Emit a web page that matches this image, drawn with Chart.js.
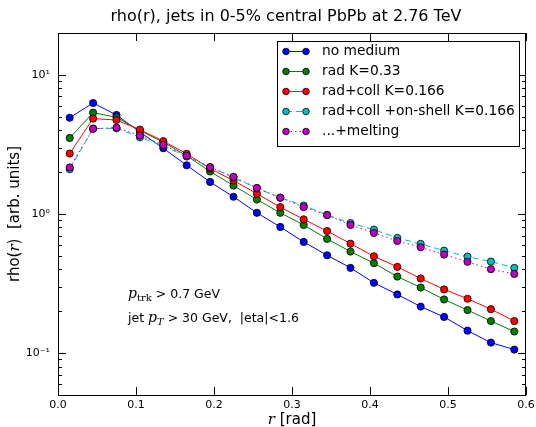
<!DOCTYPE html>
<html>
<head>
<meta charset="utf-8">
<script src="https://cdn.jsdelivr.net/npm/chart.js@4/dist/chart.umd.min.js"></script>
<style>
  html, body { margin: 0; padding: 0; background: #fff; }
  #wrap { width: 536px; height: 427px; }
</style>
</head>
<body>
<div id="wrap"><canvas id="rhoChart" width="536" height="427"></canvas></div>
<script>
// bin centres in r [rad]
const rBins = [0.015, 0.045, 0.075, 0.105, 0.135, 0.165, 0.195, 0.225, 0.255, 0.285,
               0.315, 0.345, 0.375, 0.405, 0.435, 0.465, 0.495, 0.525, 0.555, 0.585];

const noMedium = [4.92, 6.28, 5.15, 3.88, 2.97, 2.24, 1.70, 1.33, 1.02, 0.807,
                  0.63, 0.505, 0.41, 0.32, 0.264, 0.216, 0.182, 0.145, 0.119, 0.106];
const radK033 = [3.52, 5.35, 4.96, 3.98, 3.28, 2.62, 2.02, 1.60, 1.27, 1.02,
                 0.834, 0.662, 0.537, 0.443, 0.355, 0.296, 0.243, 0.204, 0.170, 0.143];
const radColl = [2.72, 4.85, 4.74, 4.04, 3.34, 2.71, 2.12, 1.74, 1.40, 1.12,
                 0.915, 0.755, 0.612, 0.497, 0.417, 0.344, 0.287, 0.246, 0.207, 0.170];
const onShell = [2.10, 4.11, 4.13, 3.56, 3.09, 2.59, 2.17, 1.83, 1.53, 1.31,
                 1.15, 0.984, 0.861, 0.772, 0.673, 0.61, 0.545, 0.494, 0.455, 0.41];
const melting = [2.16, 4.10, 4.18, 3.66, 3.14, 2.62, 2.17, 1.85, 1.54, 1.31,
                 1.12, 0.984, 0.834, 0.731, 0.64, 0.577, 0.511, 0.453, 0.401, 0.371];

const seriesLabels = ["no medium", "rad K=0.33", "rad+coll K=0.166",
                      "rad+coll +on-shell K=0.166", "...+melting"];
const seriesColors = ["#0000ff", "#007f00", "#ff0000", "#00bfbf", "#bf00bf"];
const seriesDash = [[], [], [], [6, 4], [1.5, 3]];
const xTicks = [0.0, 0.1, 0.2, 0.3, 0.4, 0.5, 0.6];

const allSeries = [noMedium, radK033, radColl, onShell, melting];

// later series drawn on top, like matplotlib
const datasets = allSeries.map((vals, i) => ({
    label: seriesLabels[i],
    data: rBins.map((r, j) => ({ x: r, y: vals[j] })),
    order: allSeries.length - i,
    borderColor: seriesColors[i],
    backgroundColor: seriesColors[i],
    borderWidth: 1,
    borderDash: seriesDash[i],
    pointRadius: 3.6,
    pointBorderColor: "#000",
    pointBorderWidth: 0.8,
    pointBackgroundColor: seriesColors[i],
    tension: 0
}));

const SANS = "'DejaVu Sans', sans-serif";
const SERIF = "'DejaVu Serif', serif";

// inward ticks on all four sides, frame, legend, text
const decorPlugin = {
    id: "decor",
    afterDraw(chart) {
        const ctx = chart.ctx;
        const a = chart.chartArea;
        const xs = chart.scales.x, ys = chart.scales.y;
        ctx.save();
        ctx.strokeStyle = "#000";
        ctx.lineWidth = 1;
        ctx.strokeRect(a.left + 0.5, a.top + 0.5, a.right - a.left - 1, a.bottom - a.top);

        ctx.beginPath();
        xTicks.forEach(v => {
            const px = Math.round(xs.getPixelForValue(v)) + 0.5;
            ctx.moveTo(px, a.bottom); ctx.lineTo(px, a.bottom - 8);
            ctx.moveTo(px, a.top); ctx.lineTo(px, a.top + 8);
        });
        for (let e = -2; e <= 1; e++) {
            for (let m = 1; m <= 9; m++) {
                const v = m * Math.pow(10, e);
                if (v < ys.min || v > ys.max) continue;
                const py = Math.round(ys.getPixelForValue(v)) + 0.5;
                const len = m === 1 ? 8 : 4;
                ctx.moveTo(a.left, py); ctx.lineTo(a.left + len, py);
                ctx.moveTo(a.right, py); ctx.lineTo(a.right - len, py);
            }
        }
        ctx.stroke();

        // title
        ctx.fillStyle = "#000";
        ctx.font = "16px " + SANS;
        ctx.textAlign = "center";
        ctx.textBaseline = "alphabetic";
        ctx.fillText("rho(r), jets in 0-5% central PbPb at 2.76 TeV", 286, 21);

        // x axis title
        ctx.textAlign = "left";
        ctx.font = "italic 15px " + SERIF;
        let w1 = ctx.measureText("r").width;
        ctx.font = "15px " + SANS;
        let w2 = ctx.measureText(" [rad]").width;
        let x0 = 292 - (w1 + w2) / 2;
        ctx.font = "italic 15px " + SERIF;
        ctx.fillText("r", x0, 424);
        ctx.font = "15px " + SANS;
        ctx.fillText(" [rad]", x0 + w1, 424);

        // y axis title
        ctx.save();
        ctx.translate(19, 214);
        ctx.rotate(-Math.PI / 2);
        const parts = [["rho(", SANS], ["r", SERIF, true], [")  [arb. units]", SANS]];
        let tw = 0;
        parts.forEach(p => { ctx.font = (p[2] ? "italic " : "") + "15px " + p[1]; tw += ctx.measureText(p[0]).width; });
        let cx = -tw / 2;
        parts.forEach(p => {
            ctx.font = (p[2] ? "italic " : "") + "15px " + p[1];
            ctx.fillText(p[0], cx, 0);
            cx += ctx.measureText(p[0]).width;
        });
        ctx.restore();

        // annotation
        let ax = 128;
        ctx.font = "italic 14px " + SERIF;
        ctx.fillText("p", ax, 298);
        ax += ctx.measureText("p").width;
        ctx.font = "10px " + SERIF;
        ctx.fillText("trk", ax, 301);
        ax += ctx.measureText("trk").width;
        ctx.font = "12.5px " + SANS;
        ctx.fillText(" > 0.7 GeV", ax, 298);

        ax = 128;
        ctx.font = "12.5px " + SANS;
        ctx.fillText("jet ", ax, 322);
        ax += ctx.measureText("jet ").width;
        ctx.font = "italic 14px " + SERIF;
        ctx.fillText("p", ax, 322);
        ax += ctx.measureText("p").width;
        ctx.font = "italic 10px " + SERIF;
        ctx.fillText("T", ax, 325);
        ax += ctx.measureText("T").width;
        ctx.font = "12.5px " + SANS;
        ctx.fillText(" > 30 GeV,  |eta|<1.6", ax, 322);

        // legend
        ctx.fillStyle = "#fff";
        ctx.fillRect(277, 41, 242, 105);
        ctx.strokeStyle = "#000";
        ctx.lineWidth = 1;
        ctx.strokeRect(277.5, 41.5, 242, 105);
        chart.data.datasets.forEach((ds, i) => {
            const ly = 51.5 + i * 20;
            ctx.strokeStyle = ds.borderColor;
            ctx.setLineDash(ds.borderDash);
            ctx.beginPath();
            ctx.moveTo(286, ly); ctx.lineTo(306, ly);
            ctx.stroke();
            ctx.setLineDash([]);
            [286, 306].forEach(mx => {
                ctx.beginPath();
                ctx.arc(mx, ly, 3.3, 0, Math.PI * 2);
                ctx.fillStyle = ds.pointBackgroundColor;
                ctx.fill();
                ctx.strokeStyle = "#000";
                ctx.lineWidth = 0.8;
                ctx.stroke();
                ctx.lineWidth = 1;
            });
            ctx.fillStyle = "#000";
            ctx.font = "13.8px " + SANS;
            ctx.textBaseline = "middle";
            ctx.fillText(ds.label, 322, ly);
            ctx.textBaseline = "alphabetic";
        });
        ctx.restore();
    }
};

const supers = { "1": "10\u00b9", "0": "10\u2070", "-1": "10\u207b\u00b9" };

new Chart(document.getElementById("rhoChart").getContext("2d"), {
    type: "line",
    data: { datasets: datasets },
    options: {
        responsive: false,
        animation: false,
        devicePixelRatio: 1,
        clip: false,
        layout: { padding: { left: 0, right: 10, top: 33, bottom: 0 } },
        plugins: {
            legend: { display: false },
            title: { display: false },
            tooltip: { enabled: false }
        },
        scales: {
            x: {
                type: "linear",
                min: 0,
                max: 0.6,
                afterFit: s => { s.height = 32; s.paddingLeft = 0; s.paddingRight = 0; },
                afterBuildTicks: s => { s.ticks = xTicks.map(v => ({ value: v })); },
                grid: { display: false, drawTicks: false },
                border: { display: false },
                ticks: {
                    padding: 4,
                    color: "#000",
                    font: { family: SANS, size: 11 },
                    callback: v => v.toFixed(1)
                }
            },
            y: {
                type: "logarithmic",
                min: 0.05,
                max: 20,
                afterFit: s => { s.width = 58; s.paddingTop = 0; s.paddingBottom = 0; },
                afterBuildTicks: s => { s.ticks = [0.1, 1, 10].map(v => ({ value: v })); },
                grid: { display: false, drawTicks: false },
                border: { display: false },
                ticks: {
                    padding: 8,
                    color: "#000",
                    font: { family: SANS, size: 11 },
                    callback: v => supers[String(Math.round(Math.log10(v)))]
                }
            }
        }
    },
    plugins: [decorPlugin]
});
</script>
</body>
</html>
